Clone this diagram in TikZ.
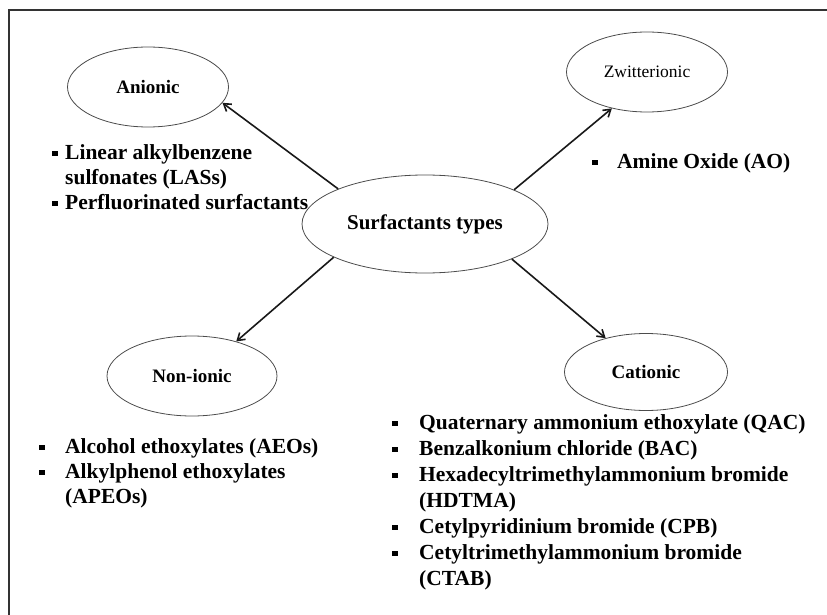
\documentclass[tikz,border=0pt]{standalone}
\usepackage{fontspec}
\setmainfont{Liberation Serif}
\usetikzlibrary{shapes.geometric,arrows.meta}

\newcommand{\sqbul}{\rule[3pt]{5.5pt}{5.5pt}}

\begin{document}
\begin{tikzpicture}[x=1pt, y=-1pt,
    kind/.style = {draw=black!70, ellipse, line width=0.8pt, minimum width=161pt, minimum height=80pt, font=\fontsize{19}{23}\selectfont\bfseries},
    items/.style = {anchor=north west, inner sep=0pt, align=left, font=\fontsize{21.5}{25}\selectfont\bfseries},
    link/.style = {-{Straight Barb[length=7pt,width=9pt]}, line width=1.6pt, black!90}
]
\useasboundingbox (0,0) rectangle (827,615);
\draw[line width=2pt, black!80] (9,615) -- (9,10) -- (827,10);

\node[kind, minimum width=246pt, minimum height=98pt, font=\fontsize{21}{25}\selectfont\bfseries] (surf) at (425,224) {Surfactants types};
\node[kind] (anionic) at (148,87) {Anionic};
\node[kind, font=\fontsize{17.5}{21}\selectfont] (zwit) at (647,72) {Zwitterionic};
\node[kind, minimum width=170pt] (nonionic) at (192,376) {Non-ionic};
\node[kind, minimum width=163pt, minimum height=77pt] (cationic) at (646,372) {Cationic};

\node[items] (anlist) at (52,141.5) {\begin{tabular}{@{}l@{\hspace{7.5pt}}l@{}}
  \sqbul & Linear alkylbenzene\\
         & sulfonates (LASs)\\
  \sqbul & Perfluorinated surfactants
\end{tabular}};
\node[items] (zwlist) at (592,150.5) {\begin{tabular}{@{}l@{\hspace{19.5pt}}l@{}}
  \sqbul & Amine Oxide (AO)
\end{tabular}};
\node[items] (nilist) at (39,435.5) {\begin{tabular}{@{}l@{\hspace{20.5pt}}l@{}}
  \sqbul & Alcohol ethoxylates (AEOs)\\
  \sqbul & Alkylphenol ethoxylates\\
         & (APEOs)
\end{tabular}};
\node[items, font=\fontsize{21.5}{26}\selectfont\bfseries] (calist) at (392,410.8) {\begin{tabular}{@{}l@{\hspace{21.5pt}}l@{}}
  \sqbul & Quaternary ammonium ethoxylate (QAC)\\
  \sqbul & Benzalkonium chloride (BAC)\\
  \sqbul & Hexadecyltrimethylammonium bromide\\
         & (HDTMA)\\
  \sqbul & Cetylpyridinium bromide (CPB)\\
  \sqbul & Cetyltrimethylammonium bromide\\
         & (CTAB)
\end{tabular}};

\draw[link] (surf.158) -- (anionic.-12);
\draw[link] (surf.21) -- (zwit.-134);
\draw[link] (surf.200) -- (nonionic.38);
\draw[link] (surf.-22) -- (cationic.140);

\end{tikzpicture}
\end{document}
